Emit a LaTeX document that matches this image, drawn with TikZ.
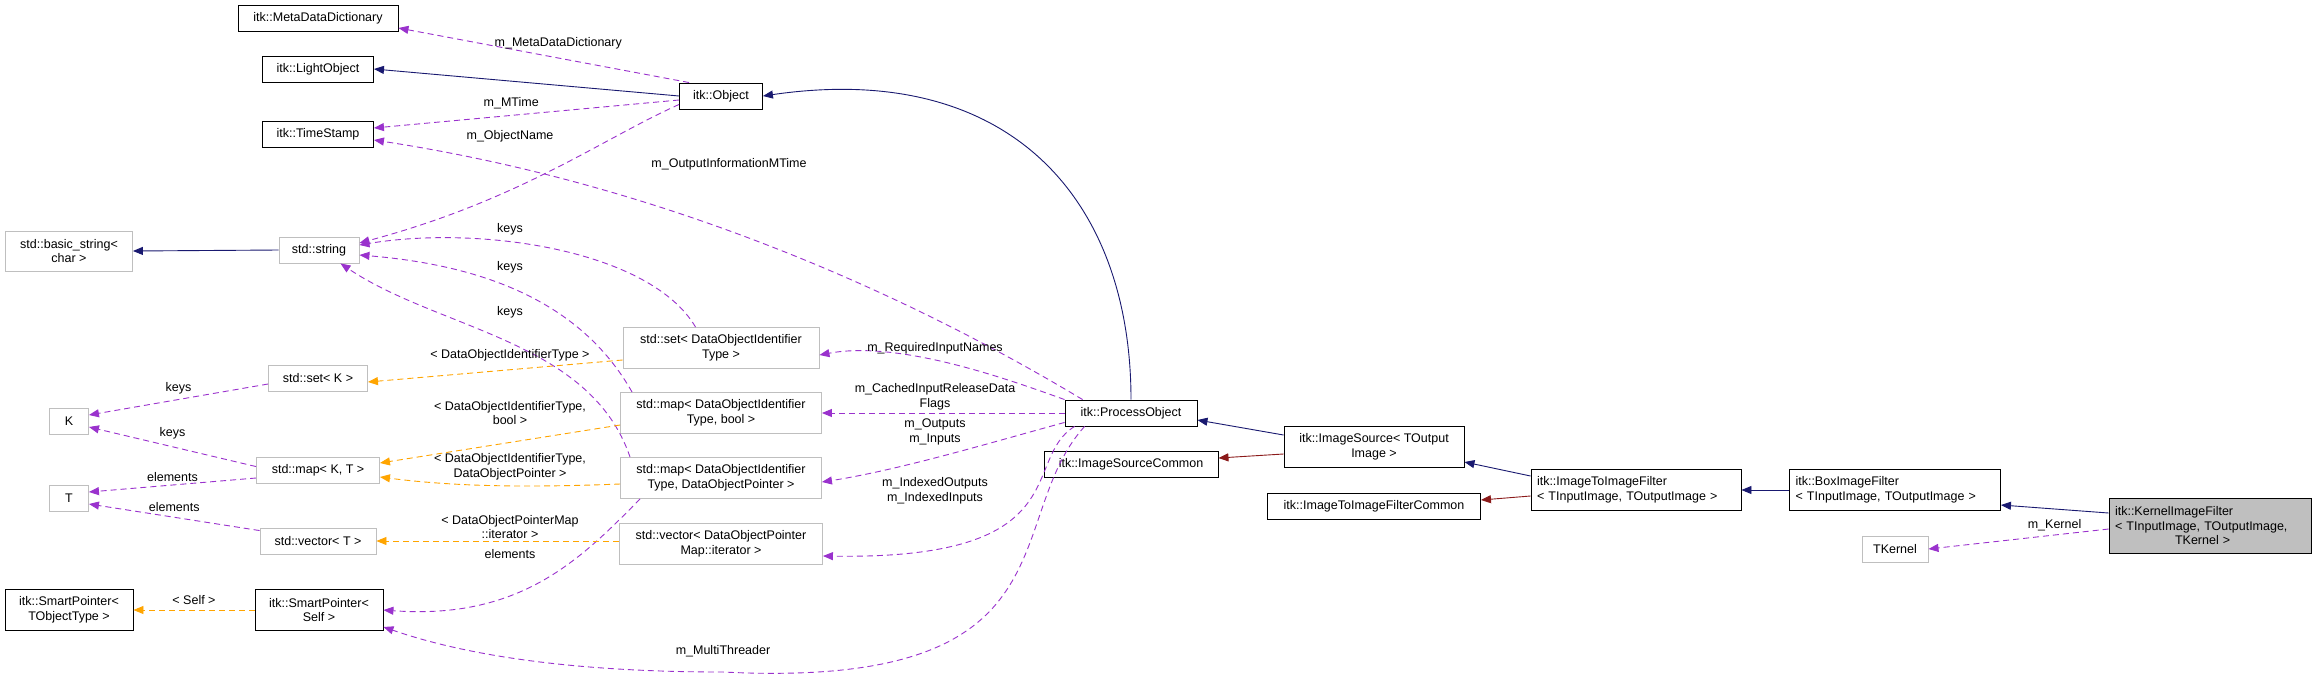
\documentclass[tikz,border=0pt]{standalone}
\usepackage{fontspec}
\setmainfont{Liberation Sans}
\usetikzlibrary{arrows.meta,calc}
\definecolor{navy}{HTML}{191970}
\definecolor{dred}{HTML}{8B1A1A}
\definecolor{purp}{HTML}{9A32CD}
\definecolor{orng}{HTML}{FFA500}
\definecolor{gbord}{HTML}{BFBFBF}
\begin{document}
\begin{tikzpicture}[x=1pt,y=-1pt,
  every node/.style={font=\fontsize{12.5}{14.5}\selectfont,inner sep=0pt},
  blk/.style={draw=black,line width=0.9pt,align=center,fill=white},
  gry/.style={draw=gbord,line width=0.9pt,align=center,fill=white},
  lbl/.style={align=center},
  tip/.style={-{Triangle[length=10pt,width=8pt]}},
  inh/.style={tip,draw=navy,line width=0.9pt},
  prv/.style={tip,draw=dred,line width=0.9pt},
  use/.style={tip,draw=purp,line width=0.9pt,dash pattern=on 6pt off 4pt},
  tpl/.style={tip,draw=orng,line width=0.9pt,dash pattern=on 6pt off 4pt}]
\useasboundingbox[fill=white] (0,0) rectangle (2317,678);
% nodes
\node[blk,minimum width=160,minimum height=26] (mdd) at (318,18) {itk::MetaDataDictionary};
\node[blk,minimum width=111,minimum height=26] (lo) at (318,69) {itk::LightObject};
\node[blk,minimum width=111,minimum height=26] (ts) at (318,134) {itk::TimeStamp};
\node[blk,minimum width=83,minimum height=26] (obj) at (721,96) {itk::Object};
\node[gry,minimum width=127,minimum height=40] (bs) at (69,251) {std::basic\_string<\\char >};
\node[gry,minimum width=80,minimum height=26] (str) at (319,250) {std::string};
\node[gry,minimum width=196,minimum height=41] (sdoit) at (721,348) {std::set< DataObjectIdentifier\\Type >};
\node[gry,minimum width=201,minimum height=41] (mbool) at (721,413) {std::map< DataObjectIdentifier\\Type, bool >};
\node[gry,minimum width=201,minimum height=41] (mdop) at (721,478) {std::map< DataObjectIdentifier\\Type, DataObjectPointer >};
\node[gry,minimum width=203,minimum height=41] (vdop) at (721,544) {std::vector< DataObjectPointer\\Map::iterator >};
\node[gry,minimum width=99,minimum height=26] (setk) at (318,378) {std::set< K >};
\node[gry,minimum width=39,minimum height=26] (K) at (69,421) {K};
\node[gry,minimum width=123,minimum height=26] (mkt) at (318,470) {std::map< K, T >};
\node[gry,minimum width=39,minimum height=26] (T) at (69,498) {T};
\node[gry,minimum width=116,minimum height=26] (vt) at (318,541) {std::vector< T >};
\node[blk,minimum width=128,minimum height=41] (spt) at (69,610) {itk::SmartPointer<\\TObjectType >};
\node[blk,minimum width=128,minimum height=41] (sps) at (319,610) {itk::SmartPointer<\\Self >};
\node[blk,minimum width=132,minimum height=26] (po) at (1131,413) {itk::ProcessObject};
\node[blk,minimum width=174,minimum height=26] (isc) at (1131,464) {itk::ImageSourceCommon};
\node[blk,minimum width=180,minimum height=41] (is) at (1374,447) {itk::ImageSource< TOutput\\Image >};
\node[blk,minimum width=213,minimum height=26] (itifc) at (1374,506) {itk::ImageToImageFilterCommon};
\node[blk,minimum width=210,minimum height=41,align=left,text width=198] (itif) at (1636,490) {itk::ImageToImageFilter\\< TInputImage, TOutputImage >};
\node[blk,minimum width=211,minimum height=41,align=left,text width=199] (box) at (1895,490) {itk::BoxImageFilter\\< TInputImage, TOutputImage >};
\node[blk,fill=gbord,minimum width=202,minimum height=55,align=left,text width=190] (kif) at (2210,526) {itk::KernelImageFilter\\< TInputImage, TOutputImage,\\\hspace*{60pt}TKernel >};
\node[gry,minimum width=66,minimum height=26] (tk) at (1895,549) {TKernel};
% inheritance
\draw[inh] (obj.west) -- (lo.east);
\draw[inh] (po.north) .. controls ($(po.north)+(0,-200)$) and (1010,60) .. (obj.east);
\draw[inh] (str.west) -- (bs.east);
\draw[inh] ($(is.west)+(0,-12)$) -- ($(po.east)+(0,7)$);
\draw[prv] ($(is.west)+(0,7)$) -- ($(isc.east)+(0,-6)$);
\draw[inh] ($(itif.west)+(0,-14)$) -- ($(is.east)+(0,15)$);
\draw[prv] ($(itif.west)+(0,6)$) -- ($(itifc.east)+(0,-6)$);
\draw[inh] (box.west) -- (itif.east);
\draw[inh] ($(kif.west)+(0,-13)$) -- ($(box.east)+(0,15)$);
% usage
\draw[use] ($(obj.north west)+(10,0)$) -- node[lbl,pos=0.45,above=8pt]{m\_MetaDataDictionary} ($(mdd.east)+(0,10)$);
\draw[use] ($(obj.west)+(0,4)$) -- node[lbl,pos=0.55,above=6pt]{m\_MTime} ($(ts.east)+(0,-6)$);
\draw[use] ($(obj.south west)+(0,-5)$) .. controls (600,140) and (520,200) .. ($(str.east)+(0,-7)$);
\node[lbl] at (510,136) {m\_ObjectName};
\draw[use] ($(po.north west)+(18,0)$) .. controls (950,320) and (700,190) .. ($(ts.east)+(0,6)$);
\node[lbl] at (729,164) {m\_OutputInformationMTime};
\draw[use] ($(sdoit.north west)+(73,0)$) .. controls (650,250) and (480,225) .. ($(str.east)+(0,-5)$);
\node[lbl] at (510,229) {keys};
\draw[use] ($(mbool.north west)+(12,0)$) .. controls (580,300) and (480,265) .. ($(str.east)+(0,5)$);
\node[lbl] at (510,267) {keys};
\draw[use] ($(mdop.north west)+(10,0)$) .. controls (590,340) and (440,330) .. ($(str.south east)+(-19,0)$);
\node[lbl] at (510,312) {keys};
\draw[use] ($(mdop.south west)+(20,0)$) .. controls (580,560) and (520,620) .. ($(sps.east)+(0,0)$);
\node[lbl] at (510,554) {elements};
\draw[use] ($(po.north west)+(0,0)$) .. controls (1010,380) and (900,340) .. ($(sdoit.east)+(0,7)$);
\node[lbl] at (935,348) {m\_RequiredInputNames};
\draw[use] (po.west) -- (mbool.east);
\node[lbl] at (935,397) {m\_CachedInputReleaseData\\Flags};
\draw[use] ($(po.south west)+(0,-4)$) .. controls (1000,440) and (900,470) .. ($(mdop.east)+(0,4)$);
\node[lbl] at (935,432) {m\_Outputs\\m\_Inputs};
\draw[use] ($(po.south west)+(10,0)$) .. controls (1020,460) and (1080,560) .. ($(vdop.east)+(0,12)$);
\node[lbl] at (935,491) {m\_IndexedOutputs\\m\_IndexedInputs};
\draw[use] ($(po.south west)+(20,0)$) .. controls (1000,520) and (1080,690) .. (723,672) .. controls (550,672) and (450,650) .. ($(sps.south east)+(0,-4)$);
\node[lbl] at (723,651) {m\_MultiThreader};
\draw[use] ($(setk.west)+(0,6)$) -- node[lbl,pos=0.5,above=5pt]{keys} ($(K.east)+(0,-6)$);
\draw[use] ($(mkt.north west)+(0,10)$) -- node[lbl,pos=0.5,above=7pt]{keys} ($(K.east)+(0,6)$);
\draw[use] ($(mkt.west)+(0,8)$) -- node[lbl,pos=0.5,above=3pt]{elements} ($(T.east)+(0,-6)$);
\draw[use] ($(vt.north west)+(0,3)$) -- node[lbl,pos=0.5,above=5pt]{elements} ($(T.east)+(0,6)$);
\draw[use] ($(kif.west)+(0,3)$) -- node[lbl,pos=0.3,above=4pt]{m\_Kernel} (tk.east);
% templates
\draw[tpl] ($(sdoit.west)+(0,12)$) -- ($(setk.east)+(0,4)$);
\node[lbl] at (510,355) {< DataObjectIdentifierType >};
\draw[tpl] ($(mbool.west)+(0,12)$) -- ($(mkt.east)+(0,-7)$);
\node[lbl] at (510,413) {< DataObjectIdentifierType,\\bool >};
\draw[tpl] ($(mdop.west)+(0,6)$) .. controls (520,488) and (450,486) .. ($(mkt.east)+(0,7)$);
\node[lbl] at (510,467) {< DataObjectIdentifierType,\\DataObjectPointer >};
\draw[tpl] ($(vdop.west)+(0,-3)$) -- ($(vt.east)+(0,0)$);
\node[lbl] at (510,527) {< DataObjectPointerMap\\::iterator >};
\draw[tpl] (sps.west) -- node[lbl,above=5pt]{< Self >} (spt.east);
\end{tikzpicture}
\end{document}
